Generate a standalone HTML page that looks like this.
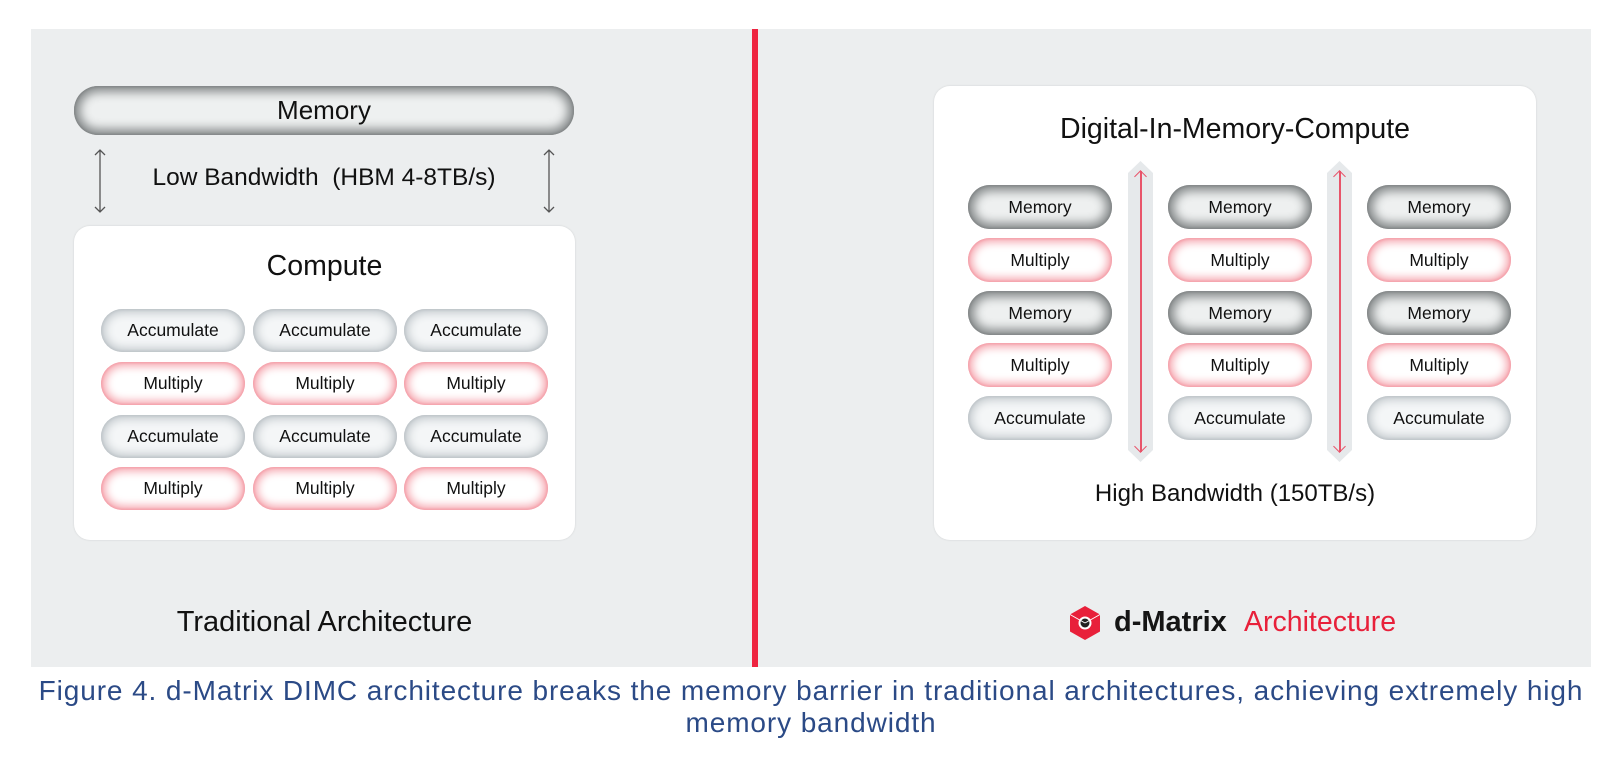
<!DOCTYPE html>
<html><head><meta charset="utf-8"><style>
*{margin:0;padding:0;box-sizing:border-box}
body{width:1622px;height:761px;background:#fff;position:relative;overflow:hidden;font-family:"Liberation Sans",sans-serif;color:#111}
.abs{position:absolute}
.panel{left:31px;top:29px;width:1560px;height:638px;background:#eceeef}
.div{left:752px;top:29px;width:6px;height:638px;background:#ee2440}
.box{background:#fff;border-radius:16px;box-shadow:0 0 2px rgba(0,0,0,.12)}
.pill{position:absolute;border-radius:24px;display:flex;align-items:center;justify-content:center;font-size:17.5px;color:#111}
.mem{background:#eef0f0;box-shadow:inset 0 0 10px 6px #868a8b, inset 0 0 2px 1px #5f6263}
.mul{background:#fff;box-shadow:inset 0 0 9px 4px #f5a3ac, inset 0 0 2px 1px #f08a96}
.acc{background:#f4f6f7;box-shadow:inset 0 0 9px 4px #c3c9cd, inset 0 0 2px 1px #aab1b6}
.t{position:absolute;text-align:center;white-space:nowrap}
.bar{position:absolute;width:25px;background:#e6e9eb;clip-path:polygon(0 12px,50% 0,100% 12px,100% calc(100% - 12px),50% 100%,0 calc(100% - 12px))}
.bar i{position:absolute;left:12px;top:10px;bottom:10px;width:1.5px;background:#e8546a}
.bar b{position:absolute;left:8px;width:9px;height:9px;border-left:1.5px solid #e8546a;border-top:1.5px solid #e8546a}
</style></head><body>
<div class="abs panel"></div>
<div class="abs div"></div>

<div class="pill mem" style="left:74px;top:86px;width:500px;height:49px;font-size:26px">Memory</div>
<svg class="abs" style="left:90px;top:148px" width="20" height="66"><path d="M10 2V64M5 7L10 2L15 7M5 59L10 64L15 59" stroke="#555" stroke-width="1.3" fill="none"/></svg>
<svg class="abs" style="left:539px;top:148px" width="20" height="66"><path d="M10 2V64M5 7L10 2L15 7M5 59L10 64L15 59" stroke="#555" stroke-width="1.3" fill="none"/></svg>
<div class="t" style="left:74px;width:500px;top:164px;font-size:24.5px">Low Bandwidth&nbsp; (HBM 4-8TB/s)</div>
<div class="abs box" style="left:74px;top:226px;width:501px;height:314px"></div>
<div class="t" style="left:74px;width:501px;top:250px;font-size:28.5px">Compute</div>

<div class="pill acc" style="left:101px;top:309px;width:144px;height:43px">Accumulate</div>
<div class="pill acc" style="left:253px;top:309px;width:144px;height:43px">Accumulate</div>
<div class="pill acc" style="left:404px;top:309px;width:144px;height:43px">Accumulate</div>
<div class="pill mul" style="left:101px;top:362px;width:144px;height:43px">Multiply</div>
<div class="pill mul" style="left:253px;top:362px;width:144px;height:43px">Multiply</div>
<div class="pill mul" style="left:404px;top:362px;width:144px;height:43px">Multiply</div>
<div class="pill acc" style="left:101px;top:415px;width:144px;height:43px">Accumulate</div>
<div class="pill acc" style="left:253px;top:415px;width:144px;height:43px">Accumulate</div>
<div class="pill acc" style="left:404px;top:415px;width:144px;height:43px">Accumulate</div>
<div class="pill mul" style="left:101px;top:467px;width:144px;height:43px">Multiply</div>
<div class="pill mul" style="left:253px;top:467px;width:144px;height:43px">Multiply</div>
<div class="pill mul" style="left:404px;top:467px;width:144px;height:43px">Multiply</div>

<div class="t" style="left:74px;width:501px;top:606px;font-size:29px">Traditional Architecture</div>

<div class="abs box" style="left:934px;top:86px;width:602px;height:454px"></div>
<div class="t" style="left:934px;width:602px;top:113px;font-size:28.5px">Digital-In-Memory-Compute</div>

<div class="pill mem" style="left:968px;top:185px;width:144px;height:44px">Memory</div>
<div class="pill mul" style="left:968px;top:238px;width:144px;height:44px">Multiply</div>
<div class="pill mem" style="left:968px;top:291px;width:144px;height:44px">Memory</div>
<div class="pill mul" style="left:968px;top:343px;width:144px;height:44px">Multiply</div>
<div class="pill acc" style="left:968px;top:396px;width:144px;height:44px">Accumulate</div>

<div class="pill mem" style="left:1168px;top:185px;width:144px;height:44px">Memory</div>
<div class="pill mul" style="left:1168px;top:238px;width:144px;height:44px">Multiply</div>
<div class="pill mem" style="left:1168px;top:291px;width:144px;height:44px">Memory</div>
<div class="pill mul" style="left:1168px;top:343px;width:144px;height:44px">Multiply</div>
<div class="pill acc" style="left:1168px;top:396px;width:144px;height:44px">Accumulate</div>

<div class="pill mem" style="left:1367px;top:185px;width:144px;height:44px">Memory</div>
<div class="pill mul" style="left:1367px;top:238px;width:144px;height:44px">Multiply</div>
<div class="pill mem" style="left:1367px;top:291px;width:144px;height:44px">Memory</div>
<div class="pill mul" style="left:1367px;top:343px;width:144px;height:44px">Multiply</div>
<div class="pill acc" style="left:1367px;top:396px;width:144px;height:44px">Accumulate</div>

<div class="bar" style="left:1128px;top:161px;height:301px"><i></i><b style="top:11px;transform:rotate(45deg)"></b><b style="bottom:11px;transform:rotate(225deg)"></b></div>
<div class="bar" style="left:1327px;top:161px;height:301px"><i></i><b style="top:11px;transform:rotate(45deg)"></b><b style="bottom:11px;transform:rotate(225deg)"></b></div>

<div class="t" style="left:934px;width:602px;top:480px;font-size:24px">High Bandwidth (150TB/s)</div>

<svg class="abs" style="left:1069px;top:605px" width="32" height="36" viewBox="0 0 32 36"><polygon points="16,1 31,9.5 31,26.5 16,35 1,26.5 1,9.5" fill="#e8203a"/><circle cx="16" cy="18" r="6.5" fill="#fff"/><circle cx="16" cy="18" r="4.5" fill="#222"/><path d="M1 9.5L16 18M31 9.5L16 18" stroke="#fff" stroke-width="1"/></svg>
<div class="t" style="left:1114px;top:606px;font-size:29px;font-weight:bold;color:#151515">d-Matrix</div>
<div class="t" style="left:1244px;top:606px;font-size:28.5px;color:#e8203a">Architecture</div>

<div class="t" style="left:0;width:1622px;top:675px;font-size:28px;color:#2b4a86;line-height:32px;letter-spacing:0.9px">Figure 4. d-Matrix DIMC architecture breaks the memory barrier in traditional architectures, achieving extremely high<br>memory bandwidth</div>
</body></html>
